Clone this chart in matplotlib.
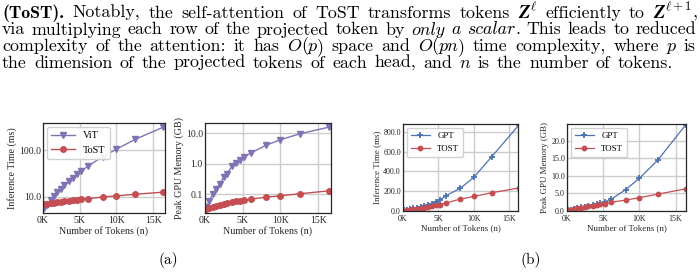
import matplotlib
matplotlib.use('Agg')
import matplotlib.pyplot as plt
from matplotlib.ticker import FixedLocator, FuncFormatter, FormatStrFormatter, NullLocator

# ---------------- data ----------------
n_tokens = [196, 576, 1024, 1444, 1936, 2500, 2916, 3600, 4096, 4624, 5184, 6084, 8100, 10000, 12544, 16384]
vit_time = [5.7, 6.8, 8.5, 10.3, 12.5, 15.0, 17.5, 22.0, 25.0, 31.0, 35.0, 45.0, 72.0, 105.0, 170.0, 310.0]
tost_time_a = [6.9, 7.0, 7.2, 7.5, 7.7, 7.9, 8.1, 8.3, 8.5, 8.7, 8.8, 9.1, 9.9, 10.5, 11.3, 12.6]
vit_mem = [0.04, 0.06, 0.10, 0.15, 0.22, 0.37, 0.48, 0.85, 1.1, 1.35, 1.7, 2.3, 4.1, 6.2, 9.7, 16.0]
tost_mem_a = [0.034, 0.037, 0.040, 0.042, 0.046, 0.049, 0.052, 0.057, 0.060, 0.062, 0.065, 0.070, 0.081, 0.090, 0.105, 0.13]
gpt_time = [8, 15, 22, 28, 35, 45, 50, 62, 75, 92, 110, 155, 230, 340, 550, 870]
tost_time_b = [4, 9, 15, 19, 24, 29, 33, 40, 48, 56, 65, 82, 120, 147, 185, 233]
gpt_mem = [0.2, 0.4, 0.6, 0.8, 1.0, 1.2, 1.4, 1.7, 2.0, 2.3, 2.6, 3.3, 6.1, 9.3, 14.5, 24.5]
tost_mem_b = [0.2, 0.4, 0.6, 0.8, 0.95, 1.1, 1.3, 1.5, 1.7, 1.9, 2.1, 2.5, 3.1, 3.8, 4.8, 6.3]
x_ticks = [0, 5000, 10000, 15000]

PURPLE = '#8172B3'
RED = '#C44E52'
BLUE = '#4C72B0'

plt.rcParams['mathtext.fontset'] = 'cm'
plt.rcParams['font.family'] = ['Liberation Serif', 'DejaVu Serif']

W, H = 700, 275
fig = plt.figure(figsize=(7, 2.75), dpi=100)
renderer = fig.canvas.get_renderer()

# ---------------- paragraph text ----------------
lines = [
    [[('(ToST).', 'bf')], [('Notably,', 'rm')], [('the', 'rm')], [('self-attention', 'rm')], [('of', 'rm')],
     [('ToST', 'rm')], [('transforms', 'rm')], [('tokens', 'rm')], [('Z', 'Z'), (r'$\ell$', 'sup')],
     [('efficiently', 'rm')], [('to', 'rm')], [('Z', 'Z'), (r'$\ell+1$', 'sup'), (',', 'rm')]],
    [[('via', 'rm')], [('multiplying', 'rm')], [('each', 'rm')], [('row', 'rm')], [('of', 'rm')], [('the', 'rm')],
     [('projected', 'rm')], [('token', 'rm')], [('by', 'rm')], [('only', 'mi')], [('a', 'mi')],
     [('scalar', 'mi'), ('.', 'rm')], [('This', 'rm')], [('leads', 'rm')], [('to', 'rm')], [('reduced', 'rm')]],
    [[('complexity', 'rm')], [('of', 'rm')], [('the', 'rm')], [('attention:', 'rm')], [('it', 'rm')], [('has', 'rm')],
     [('O', 'mi'), ('(', 'rm'), ('p', 'mi'), (')', 'rm')], [('space', 'rm')], [('and', 'rm')],
     [('O', 'mi'), ('(', 'rm'), ('pn', 'mi'), (')', 'rm')], [('time', 'rm')],
     [('complexity,', 'rm')], [('where', 'rm')], [('p', 'mi')], [('is', 'rm')]],
    [[('the', 'rm')], [('dimension', 'rm')], [('of', 'rm')], [('the', 'rm')], [('projected', 'rm')], [('tokens', 'rm')],
     [('of', 'rm')], [('each', 'rm')], [('head,', 'rm')], [('and', 'rm')], [('n', 'mi')], [('is', 'rm')],
     [('the', 'rm')], [('number', 'rm')], [('of', 'rm')], [('tokens.', 'rm')]],
]
right_edges = [697.0, 696.5, 695.5, 673.0]
baselines = [18.0, 34.5, 51.0, 67.5]
L = 2.0


def props(style, fs):
    if style == 'rm':
        return dict(family='cmr10', fontsize=fs), 0.0
    if style == 'bf':
        return dict(family='cmb10', fontsize=fs), 0.0
    if style == 'mi':
        return dict(family='cmmi10', fontsize=fs), 0.0
    if style == 'Z':
        return dict(family='STIXGeneral', weight='bold', style='italic', fontsize=fs * 1.05), 0.0
    if style == 'sup':
        return dict(fontsize=fs * 0.72), fs * 0.42 * 100 / 72
    return dict(fontsize=fs), 0.0


def build(line, fs):
    words = []
    for word in line:
        pcs = []
        for s, st in word:
            p, dy = props(st, fs)
            t = fig.text(0, 0, s, ha='left', va='baseline', color='black', **p)
            w = t.get_window_extent(renderer).width
            pcs.append((t, w, dy))
        words.append(pcs)
    return words


# font size chosen so the last line spans about the reference width
probe = build(lines[3], 10.0)
probe_w = sum(w for pcs in probe for (_, w, _) in pcs) + 0.333 * 10.0 * 100 / 72 * (len(lines[3]) - 1)
for pcs in probe:
    for t, _, _ in pcs:
        t.remove()
FS = 10.0 * (673.0 - L) / probe_w * 0.97

for line, R, yb in zip(lines, right_edges, baselines):
    words = build(line, FS)
    tot = sum(w for pcs in words for (_, w, _) in pcs)
    gap = (R - L - tot) / (len(words) - 1)
    x = L
    for pcs in words:
        for t, w, dy in pcs:
            t.set_position((x / W, 1 - (yb - dy) / H))
            x += w
        x += gap

# ---------------- plots ----------------
def ax_at(l, r, t, b):
    return fig.add_axes([l / W, 1 - b / H, (r - l) / W, (b - t) / H])


def style_ax(ax, tick_fs, label_fs, ylabel, xmax, xpad):
    ax.set_axisbelow(True)
    ax.grid(True, color='#cccccc', lw=1.0)
    for sp in ax.spines.values():
        sp.set_color('#262626')
        sp.set_linewidth(0.9)
    ax.set_xlim(0, xmax)
    ax.xaxis.set_major_locator(FixedLocator(x_ticks))
    ax.xaxis.set_major_formatter(FuncFormatter(lambda v, p: f'{int(round(v / 1000))}K'))
    ax.tick_params(length=0, pad=1.5, labelsize=tick_fs, colors='#262626')
    ax.tick_params(axis='x', pad=xpad)
    ax.set_xlabel('Number of Tokens (n)', fontsize=label_fs, labelpad=1, color='#262626')
    ax.set_ylabel(ylabel, fontsize=label_fs, labelpad=1.5, color='#262626')


# (a) inference time
ax1 = ax_at(43, 165, 123, 213)
ax1.plot(n_tokens, vit_time, color=PURPLE, marker='v', ms=4.5, lw=1.0, label='ViT')
ax1.plot(n_tokens, tost_time_a, color=RED, marker='o', ms=4.0, lw=1.0, label='ToST')
ax1.set_yscale('log')
ax1.set_ylim(4.5, 380)
ax1.yaxis.set_major_locator(FixedLocator([10, 100]))
ax1.yaxis.set_minor_locator(NullLocator())
ax1.yaxis.set_major_formatter(FormatStrFormatter('%.1f'))
style_ax(ax1, 7, 7.2, 'Inference Time (ms)', 16600, 2.0)
ax1.legend(loc='upper left', fontsize=7.4, handlelength=2.3, borderaxespad=0.35,
           framealpha=0.9, edgecolor='#cccccc', labelspacing=0.5, borderpad=0.45)

# (a) memory
ax2 = ax_at(205, 331, 123, 213)
ax2.plot(n_tokens, vit_mem, color=PURPLE, marker='v', ms=4.5, lw=1.0, label='ViT')
ax2.plot(n_tokens, tost_mem_a, color=RED, marker='o', ms=4.0, lw=1.0, label='ToST')
ax2.set_yscale('log')
ax2.set_ylim(0.0245, 22)
ax2.yaxis.set_major_locator(FixedLocator([0.1, 1, 10]))
ax2.yaxis.set_minor_locator(NullLocator())
ax2.yaxis.set_major_formatter(FormatStrFormatter('%.1f'))
style_ax(ax2, 7, 7.2, 'Peak GPU Memory (GB)', 16700, 2.0)

# (b) inference time
ax3 = ax_at(403, 518, 124, 211)
ax3.plot(n_tokens, gpt_time, color=BLUE, marker='+', ms=4.5, mew=1.3, lw=0.9, label='GPT')
ax3.plot(n_tokens, tost_time_b, color=RED, marker='o', ms=3.2, lw=0.9, label='TOST')
ax3.set_ylim(0, 880)
ax3.yaxis.set_major_locator(FixedLocator([0, 200, 400, 600, 800]))
ax3.yaxis.set_major_formatter(FormatStrFormatter('%.1f'))
style_ax(ax3, 5.8, 6.4, 'Inference Time (ms)', 16250, 3.0)
ax3.legend(loc='upper left', fontsize=6.4, handlelength=2.2, borderaxespad=0.4,
           framealpha=0.9, edgecolor='#cccccc', labelspacing=0.6, borderpad=0.45)

# (b) memory
ax4 = ax_at(567, 686, 124, 211)
ax4.plot(n_tokens, gpt_mem, color=BLUE, marker='+', ms=4.5, mew=1.3, lw=0.9, label='GPT')
ax4.plot(n_tokens, tost_mem_b, color=RED, marker='o', ms=3.2, lw=0.9, label='TOST')
ax4.set_ylim(0, 24.8)
ax4.yaxis.set_major_locator(FixedLocator([0, 5, 10, 15, 20]))
ax4.yaxis.set_major_formatter(FormatStrFormatter('%.1f'))
style_ax(ax4, 5.8, 6.4, 'Peak GPU Memory (GB)', 16450, 3.0)
ax4.legend(loc='upper left', fontsize=6.4, handlelength=2.2, borderaxespad=0.4,
           framealpha=0.9, edgecolor='#cccccc', labelspacing=0.6, borderpad=0.45)

# panel labels
fig.text(168 / W, 1 - 260 / H, '(a)', family='cmr10', fontsize=FS * 0.85, ha='center', va='center')
fig.text(531 / W, 1 - 260 / H, '(b)', family='cmr10', fontsize=FS * 0.85, ha='center', va='center')

fig.savefig('out.png', dpi=100, facecolor='white')
